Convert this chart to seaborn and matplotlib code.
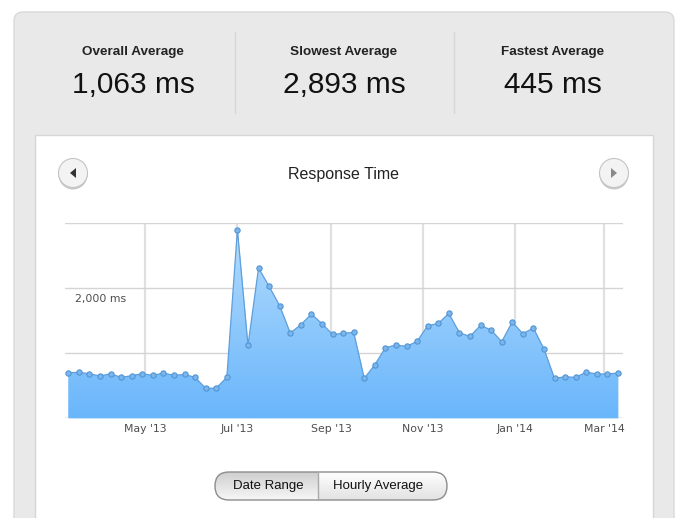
import numpy as np
import pandas as pd
import matplotlib
matplotlib.use('Agg')
import matplotlib.pyplot as plt
import matplotlib.dates as mdates
from matplotlib.patches import FancyBboxPatch, Rectangle, Circle, Polygon
import seaborn as sns

# 주간 응답 시간 (ms), 2013-03-11 부터 매주
start_date = '2013-03-11'
response_ms = [697, 702, 681, 646, 681, 625, 651, 681, 656, 692, 656, 671, 625,
               456, 461, 625, 2896, 1117, 2307, 2025, 1727, 1307, 1435, 1599,
               1451, 1286, 1302, 1317, 609, 820, 1081, 1123, 1102, 1179, 1420,
               1455, 1609, 1312, 1255, 1425, 1353, 1174, 1476, 1297, 1384, 1061,
               609, 635, 625, 707, 677, 677, 692]
weeks = pd.date_range(start_date, periods=len(response_ms), freq='7D')

stat_titles = ['Overall Average', 'Slowest Average', 'Fastest Average']
stat_values = ['1,063 ms', '2,893 ms', '445 ms']
month_ticks = ['2013-05-01', '2013-07-01', '2013-09-01', '2013-11-01', '2014-01-01', '2014-03-01']
y_grid = [0, 1000, 2000, 3000]
button_labels = ['Date Range', 'Hourly Average']

df = pd.DataFrame({'week': weeks, 'ms': response_ms})

sns.set_style('white')
plt.rcParams['font.family'] = ['Liberation Sans', 'DejaVu Sans']

W, H = 690, 518
fig = plt.figure(figsize=(W / 100, H / 100), dpi=100)
fig.patch.set_facecolor('white')

# 배경 (픽셀 좌표)
bg = fig.add_axes([0, 0, 1, 1])
bg.set_xlim(0, W)
bg.set_ylim(H, 0)
bg.axis('off')

bg.add_patch(FancyBboxPatch((14, 12), 660, 540, boxstyle='round,pad=0,rounding_size=9',
                            fc='#e9e9e9', ec='#d9d9d9', lw=1))
bg.add_patch(Rectangle((35, 135), 618, 400, fc='white', ec='#d6d6d6', lw=1))
for sx in [235, 454]:
    bg.plot([sx, sx], [32, 113], color='#d6d6d6', lw=1)

centers = [133, 344, 553]
for cx, t, v in zip(centers, stat_titles, stat_values):
    bg.text(cx, 52, t, ha='center', va='center', fontsize=9.7, fontweight='bold', color='#222222')
    bg.text(cx, 85, v, ha='center', va='center', fontsize=21.5, color='#111111')

bg.text(344, 174, 'Response Time', ha='center', va='center', fontsize=11.5, color='#222222')

# 화살표 버튼
for cx, d in [(73, -1), (614, 1)]:
    bg.add_patch(Circle((cx, 175), 14.5, fc='#c8c8c8', ec='none'))
    bg.add_patch(Circle((cx, 173), 14.5, fc='#f3f3f3', ec='#c4c4c4', lw=0.8))
    tip = cx + 3 * d
    tri = [(tip, 173), (tip - 6 * d, 168), (tip - 6 * d, 178)]
    bg.add_patch(Polygon(tri, closed=True, fc='#333333' if d < 0 else '#888888', ec='none'))

# 하단 토글 버튼
pill = FancyBboxPatch((215, 472), 232, 28, boxstyle='round,pad=0,rounding_size=14',
                      fc='#f0f0f0', ec='#8c8c8c', lw=1, zorder=3)
bg.add_patch(pill)
grad_left = np.linspace(0, 1, 50).reshape(-1, 1)
im1 = bg.imshow(grad_left, extent=(215, 318, 500, 472), cmap=matplotlib.colors.LinearSegmentedColormap.from_list(
    'l', ['#cfcfcf', '#f7f7f7']), aspect='auto', zorder=2, origin='upper')
im1.set_clip_path(pill)
im2 = bg.imshow(grad_left, extent=(318, 447, 500, 472), cmap=matplotlib.colors.LinearSegmentedColormap.from_list(
    'r', ['#ffffff', '#e2e2e2']), aspect='auto', zorder=2, origin='upper')
im2.set_clip_path(pill)
pill.set_facecolor('none')
bg.plot([318, 318], [472, 500], color='#aaaaaa', lw=1, zorder=4)
bg.text(268, 486.5, button_labels[0], ha='center', va='center', fontsize=9.5, color='#111111', zorder=5)
bg.text(378, 486.5, button_labels[1], ha='center', va='center', fontsize=9.5, color='#111111', zorder=5)
bg.set_xlim(0, W)
bg.set_ylim(H, 0)

# 차트
x0, x1, y0, y1 = 65, 623, 223, 418
ax = fig.add_axes([x0 / W, (H - y1) / H, (x1 - x0) / W, (y1 - y0) / H])
ax.set_facecolor('none')

xlim = (pd.Timestamp('2013-03-08 20:00'), pd.Timestamp('2014-03-13 08:00'))
ax.set_xlim(xlim)
ax.set_ylim(0, 3000)

poly = ax.fill_between(df['week'], df['ms'], 0, color='#8ec8fb', lw=0, zorder=1)
grad = np.linspace(1, 0, 100).reshape(-1, 1)
cmap_fill = matplotlib.colors.LinearSegmentedColormap.from_list('f', ['#6ab6fb', '#b6ddfd'])
gim = ax.imshow(grad, extent=(mdates.date2num(xlim[0]), mdates.date2num(xlim[1]), 0, 3000),
                cmap=cmap_fill, aspect='auto', zorder=1.5, origin='upper')
gim.set_clip_path(poly.get_paths()[0], transform=ax.transData)

sns.lineplot(data=df, x='week', y='ms', ax=ax, color='#5f9fdc', lw=0.9, marker='o',
             markersize=3.8, markerfacecolor='#7cb5ec', markeredgecolor='#5096d6',
             markeredgewidth=0.8, zorder=3)

ax.set_xlim(xlim)
ax.set_ylim(0, 3000)
ax.set_xlabel('')
ax.set_ylabel('')

ax.set_yticks(y_grid)
ax.set_yticklabels([])
ax.set_xticks([pd.Timestamp(m) for m in month_ticks])
ax.xaxis.set_major_formatter(mdates.DateFormatter("%b '%y"))
ax.tick_params(axis='x', length=0, pad=4, labelsize=7.8, labelcolor='#4d4d4d')
ax.tick_params(axis='y', length=0)
for lab in ax.get_xticklabels():
    lab.set_fontfamily('DejaVu Sans')
ax.grid(axis='y', color='#d4d4d4', lw=1)
ax.grid(axis='x', color='#e0e0e0', lw=1.6)
ax.set_axisbelow(True)
for s in ax.spines.values():
    s.set_visible(False)
ax.axhline(0, color='#c8c8c8', lw=1, zorder=0.5)

ax.annotate('2,000 ms', xy=(0.018, 2000), xycoords=('axes fraction', 'data'),
            xytext=(0, -4), textcoords='offset points', va='top', ha='left',
            fontsize=7.8, color='#4d4d4d', family='DejaVu Sans')

fig.savefig('out.png', dpi=100)
